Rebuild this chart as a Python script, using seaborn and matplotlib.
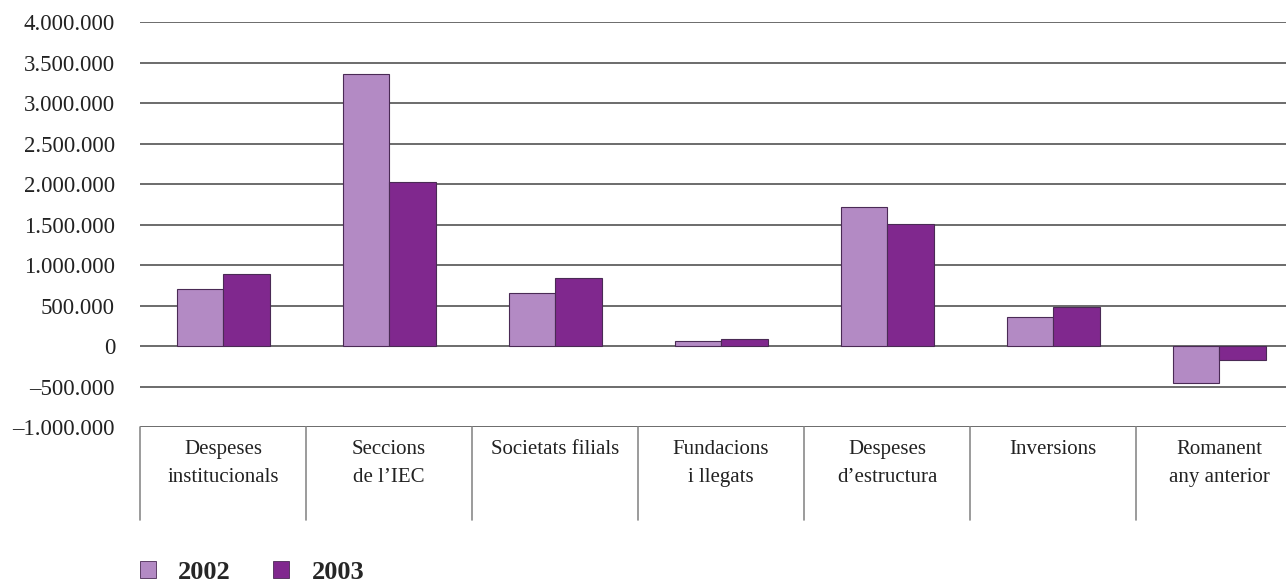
import numpy as np
import pandas as pd
import matplotlib
matplotlib.use("Agg")
import matplotlib.pyplot as plt
import matplotlib.ticker as mticker
from matplotlib.patches import Patch
import seaborn as sns

categories = ["Despeses\ninstitucionals", "Seccions\nde l\u2019IEC", "Societats filials",
              "Fundacions\ni llegats", "Despeses\nd\u2019estructura", "Inversions",
              "Romanent\nany anterior"]
values_2002 = [700000, 3360000, 650000, 60000, 1720000, 360000, -460000]
values_2003 = [890000, 2020000, 845000, 90000, 1510000, 485000, -170000]
years = ["2002", "2003"]
colors = {"2002": "#b38ac4", "2003": "#80288e"}

df = pd.DataFrame({
    "cat": categories * 2,
    "year": ["2002"] * len(categories) + ["2003"] * len(categories),
    "value": values_2002 + values_2003,
})

sns.set_style("white")
plt.rcParams["font.family"] = ["Liberation Serif", "DejaVu Serif"]

fig = plt.figure(figsize=(12.86, 5.84), dpi=100)
ax = fig.add_axes([0.1089, 0.2688, 0.9036, 0.6935])

sns.barplot(data=df, x="cat", y="value", hue="year", palette=colors,
            width=0.56, ax=ax, legend=False, edgecolor="#4a2a55", linewidth=0.8,
            saturation=1)

ax.set_ylim(-1000000, 4000000)
ax.set_xlim(-0.5, len(categories) - 0.5)
ax.yaxis.set_major_locator(mticker.MultipleLocator(500000))


def fmt(v, pos):
    s = f"{abs(v):,.0f}".replace(",", ".")
    return ("\u2013" + s) if v < 0 else s


ax.yaxis.set_major_formatter(mticker.FuncFormatter(fmt))
ax.grid(axis="y", color="#444444", linewidth=1.1)
ax.set_axisbelow(True)
for sp in ax.spines.values():
    sp.set_visible(False)

ax.tick_params(axis="y", length=0, pad=18, labelsize=16.5, labelcolor="#222222")
ax.tick_params(axis="x", length=0, pad=9, labelsize=15, labelcolor="#222222")
for lab in ax.get_xticklabels():
    lab.set_linespacing(1.65)
    lab.set_va("top")
ax.set_xlabel("")
ax.set_ylabel("")

# table-like dividers under the axis
trans = ax.get_xaxis_transform()
for i in range(len(categories) + 1):
    ax.plot([i - 0.5, i - 0.5], [0, -0.23], transform=trans, color="#8a8a8a",
            linewidth=1.2, clip_on=False)

handles = [Patch(facecolor=colors[y], edgecolor="#4a2a55", linewidth=0.6) for y in years]
fig.legend(handles, years, loc="lower left", bbox_to_anchor=(140 / 1286, 0.0), ncol=2,
           frameon=False, borderpad=0, borderaxespad=0,
           handlelength=0.6, handleheight=0.6, handletextpad=0.85,
           columnspacing=1.6, prop={"weight": "bold", "size": 19})

fig.savefig("out.png", dpi=100)
